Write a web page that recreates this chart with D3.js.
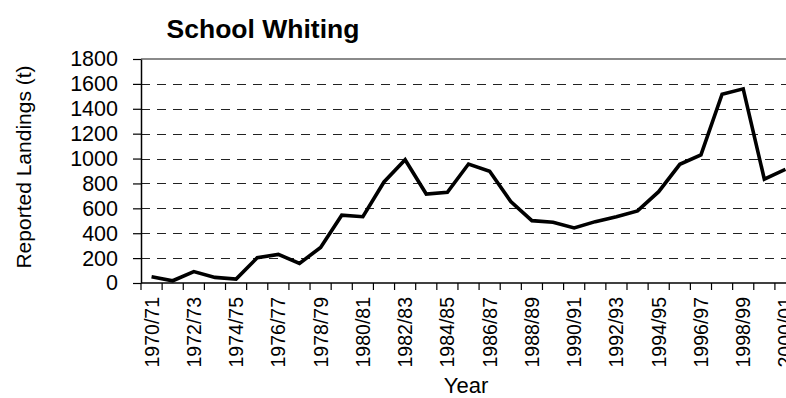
<!DOCTYPE html>
<html>
<head>
<meta charset="utf-8">
<script src="https://cdn.jsdelivr.net/npm/d3@7"></script>
<style>
  html, body { margin: 0; padding: 0; background: #fff; }
  svg { display: block; }
  text { font-family: "Liberation Sans", Arial, sans-serif; fill: #000; }
</style>
</head>
<body>
<svg id="chart" width="786" height="398"></svg>
<script>
// Fishing seasons on the category axis
const seasons = [
  "1970/71", "1971/72", "1972/73", "1973/74", "1974/75", "1975/76", "1976/77", "1977/78",
  "1978/79", "1979/80", "1980/81", "1981/82", "1982/83", "1983/84", "1984/85", "1985/86",
  "1986/87", "1987/88", "1988/89", "1989/90", "1990/91", "1991/92", "1992/93", "1993/94",
  "1994/95", "1995/96", "1996/97", "1997/98", "1998/99", "1999/00", "2000/01"
];

// Reported landings of school whiting, tonnes
const landings = [
  50, 18, 92, 45, 32, 203, 230, 158, 285, 545, 533, 812, 990, 715, 729, 956,
  898, 654, 501, 488, 442, 493, 533, 579, 734, 954, 1029, 1517, 1560, 834, 914
];

// Y axis ticks; every second season is labelled
const yTicks = [0, 200, 400, 600, 800, 1000, 1200, 1400, 1600, 1800];
const labelledSeasons = seasons.filter((d, i) => i % 2 === 0);

const svg = d3.select("#chart");

const plotLeft = 141, plotTop = 59, plotBottom = 283;
const band = 21.13;
const plotRight = plotLeft + band * seasons.length;

const x = d3.scaleBand().domain(seasons).range([plotLeft, plotRight]).paddingInner(0).paddingOuter(0);
const y = d3.scaleLinear().domain([0, 1800]).range([plotBottom, plotTop]);

// Dashed horizontal gridlines
svg.append("g")
  .selectAll("line")
  .data(yTicks.filter(v => v > 0 && v < 1800))
  .join("line")
  .attr("x1", plotLeft).attr("x2", plotRight)
  .attr("y1", d => Math.round(y(d)) + 0.5).attr("y2", d => Math.round(y(d)) + 0.5)
  .attr("stroke", "#222")
  .attr("stroke-width", 1)
  .attr("stroke-dasharray", "9,7");

// Plot area top border
svg.append("line")
  .attr("x1", plotLeft).attr("x2", plotRight)
  .attr("y1", y(1800)).attr("y2", y(1800))
  .attr("stroke", "#8a8a8a").attr("stroke-width", 2);

// Y axis
const yAxis = svg.append("g")
  .attr("transform", `translate(${plotLeft},0)`)
  .call(d3.axisLeft(y).tickValues(yTicks).tickFormat(d3.format("d"))
    .tickSize(8).tickSizeOuter(0).tickPadding(15));
yAxis.select(".domain").attr("stroke", "#000").attr("stroke-width", 1.5);
yAxis.selectAll(".tick line").attr("stroke", "#000").attr("stroke-width", 1.2);
yAxis.selectAll(".tick text")
  .attr("font-size", "21.5px")
  .attr("font-family", "Liberation Sans, Arial, sans-serif")
  .attr("fill", "#000");

// X axis baseline and tick marks on category boundaries
svg.append("line")
  .attr("x1", plotLeft).attr("x2", plotRight)
  .attr("y1", plotBottom).attr("y2", plotBottom)
  .attr("stroke", "#000").attr("stroke-width", 1.5);

svg.append("g")
  .selectAll("line")
  .data(seasons)
  .join("line")
  .attr("x1", d => x(d)).attr("x2", d => x(d))
  .attr("y1", plotBottom).attr("y2", plotBottom + 7)
  .attr("stroke", "#000").attr("stroke-width", 1.2);

// Rotated season labels
const xAxis = svg.append("g")
  .attr("transform", `translate(0,${plotBottom})`)
  .call(d3.axisBottom(x).tickValues(labelledSeasons).tickSize(0).tickPadding(0));
xAxis.select(".domain").remove();
xAxis.selectAll(".tick text")
  .attr("font-size", "19.5px")
  .attr("font-family", "Liberation Sans, Arial, sans-serif")
  .attr("fill", "#000")
  .attr("transform", "rotate(-90)")
  .attr("text-anchor", "end")
  .attr("x", -14)
  .attr("y", 0)
  .attr("dy", "0.36em");

// Landings line
const line = d3.line()
  .x((d, i) => x(seasons[i]) + x.bandwidth() / 2)
  .y(d => y(d));

svg.append("path")
  .datum(landings)
  .attr("d", line)
  .attr("fill", "none")
  .attr("stroke", "#000")
  .attr("stroke-width", 3.6)
  .attr("stroke-linejoin", "miter");

// Titles
svg.append("text")
  .attr("x", 263).attr("y", 38)
  .attr("text-anchor", "middle")
  .attr("font-size", "26.5px")
  .attr("font-weight", "bold")
  .text("School Whiting");

svg.append("text")
  .attr("transform", "translate(31,167) rotate(-90)")
  .attr("text-anchor", "middle")
  .attr("font-size", "21px")
  .text("Reported Landings (t)");

svg.append("text")
  .attr("x", 466).attr("y", 393)
  .attr("text-anchor", "middle")
  .attr("font-size", "22px")
  .text("Year");
</script>
</body>
</html>
